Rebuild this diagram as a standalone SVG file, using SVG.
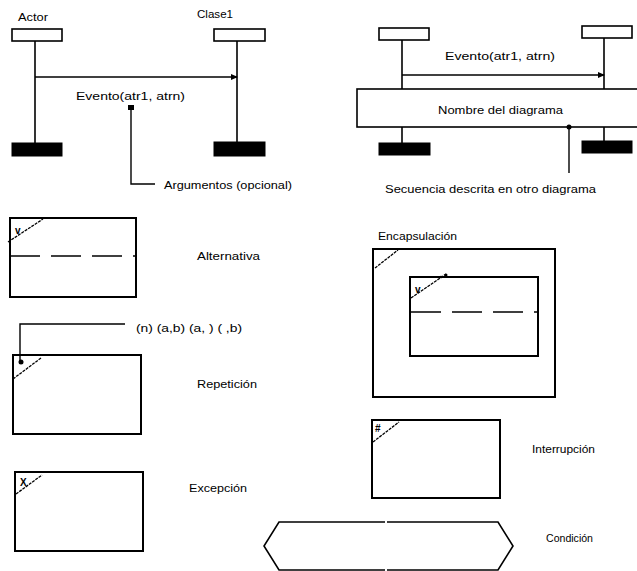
<svg xmlns="http://www.w3.org/2000/svg" width="637" height="571" viewBox="0 0 637 571">
<style>
  text { font-family: "Liberation Sans", Arial, sans-serif; font-size: 10px; fill: #000; }
  .small { font-size: 10px; font-weight: bold; }
  .box { fill: #fff; stroke: #000; stroke-width: 1.6; }
  .frame { fill: none; stroke: #000; stroke-width: 2; }
  .bar { fill: #000; stroke: #000; stroke-width: 1; }
  .life { stroke: #000; stroke-width: 1.6; fill: none; }
  .line { stroke: #000; stroke-width: 1.4; fill: none; }
  .diag { stroke: #000; stroke-width: 1.3; stroke-dasharray: 3 1; fill: none; }
  .dash { stroke: #000; stroke-width: 1.4; stroke-dasharray: 30 11; fill: none; }
</style>
<defs>
  <marker id="arrow" markerWidth="8" markerHeight="8" refX="6" refY="4" orient="auto" markerUnits="userSpaceOnUse">
    <path d="M0,1 L7,4 L0,7 Z" fill="#000"/>
  </marker>
</defs>
<rect width="637" height="571" fill="#fff"/>

<!-- Top-left sequence -->
<g id="actor">
  <text x="18" y="21" textLength="30" lengthAdjust="spacingAndGlyphs">Actor</text>
  <rect class="box" x="12" y="29" width="50" height="12"/>
  <line class="life" x1="35" y1="41" x2="35" y2="143"/>
  <rect class="bar" x="12" y="143" width="50" height="13"/>
</g>
<g id="clase1">
  <text x="197" y="18" textLength="36" lengthAdjust="spacingAndGlyphs">Clase1</text>
  <rect class="box" x="214" y="29" width="51" height="12"/>
  <line class="life" x1="237" y1="41" x2="237" y2="142"/>
  <rect class="bar" x="214" y="142" width="51" height="14"/>
</g>
<g id="label-evento1">
  <text x="76" y="100" textLength="109" lengthAdjust="spacingAndGlyphs">Evento(atr1, atrn)</text>
  <rect x="128" y="105" width="6" height="5" fill="#000"/>
</g>
<g id="label-argumentos">
  <text x="164" y="189" textLength="128" lengthAdjust="spacingAndGlyphs">Argumentos (opcional)</text>
</g>

<!-- Top-right sequence -->
<g id="objeto-a">
  <rect class="box" x="379" y="28" width="50" height="12"/>
  <line class="life" x1="402" y1="40" x2="402" y2="89"/>
  <line class="life" x1="402" y1="127" x2="402" y2="143"/>
  <rect class="bar" x="379" y="143" width="51" height="12"/>
</g>
<g id="objeto-b">
  <rect class="box" x="582" y="26" width="50" height="12"/>
  <line class="life" x1="604" y1="38" x2="604" y2="89"/>
  <line class="life" x1="604" y1="127" x2="604" y2="141"/>
  <rect class="bar" x="582" y="141" width="50" height="12"/>
</g>
<g id="label-evento2">
  <text x="445" y="60" textLength="110" lengthAdjust="spacingAndGlyphs">Evento(atr1, atrn)</text>
</g>
<g id="nombre-diagrama">
  <rect class="box" x="357" y="89" width="290" height="38"/>
  <text x="438" y="114" textLength="125" lengthAdjust="spacingAndGlyphs">Nombre del diagrama</text>
</g>
<g id="label-secuencia">
  <text x="385" y="193" textLength="211" lengthAdjust="spacingAndGlyphs">Secuencia descrita en otro diagrama</text>
</g>

<!-- Alternativa -->
<g id="alternativa">
  <rect class="frame" x="10" y="218" width="126" height="79"/>
  <line class="diag" x1="8" y1="242" x2="43" y2="219"/>
  <text class="small" x="15" y="234">v</text>
  <line class="dash" x1="10" y1="256" x2="136" y2="256"/>
  <text x="197" y="260" textLength="63" lengthAdjust="spacingAndGlyphs">Alternativa</text>
</g>

<!-- Repeticion -->
<g id="repeticion">
  <rect class="frame" x="13" y="355" width="128" height="79"/>
  <line class="diag" x1="13" y1="379" x2="41" y2="358"/>
  <circle cx="21" cy="362" r="2.5" fill="#000"/>
  <text x="136" y="332" textLength="106" lengthAdjust="spacingAndGlyphs">(n) (a,b) (a, ) ( ,b)</text>
  <text x="197" y="388" textLength="60" lengthAdjust="spacingAndGlyphs">Repetición</text>
</g>

<!-- Excepcion -->
<g id="excepcion">
  <rect class="frame" x="15" y="472" width="128" height="79"/>
  <line class="diag" x1="16" y1="494" x2="42" y2="475"/>
  <text class="small" x="20" y="486">X</text>
  <text x="189" y="492" textLength="58" lengthAdjust="spacingAndGlyphs">Excepción</text>
</g>

<!-- Encapsulacion -->
<g id="encapsulacion">
  <text x="378" y="240" textLength="79" lengthAdjust="spacingAndGlyphs">Encapsulación</text>
  <rect class="frame" x="373" y="249" width="182" height="148"/>
  <line class="diag" x1="375" y1="268" x2="398" y2="250"/>
  <rect class="frame" x="410" y="277" width="128" height="79"/>
  <line class="diag" x1="411" y1="298" x2="446" y2="274"/>
  <circle cx="441" cy="277" r="1.3" fill="#000"/>
  <circle cx="446" cy="275" r="1.5" fill="#000"/>
  <text class="small" x="415" y="293">v</text>
  <line class="dash" x1="411" y1="312" x2="538" y2="312" stroke-dasharray="29 11"/>
</g>

<!-- Interrupcion -->
<g id="interrupcion">
  <rect class="frame" x="372" y="420" width="128" height="78"/>
  <line class="diag" x1="373" y1="442" x2="399" y2="422"/>
  <text class="small" x="375" y="432">#</text>
  <text x="532" y="453" textLength="63" lengthAdjust="spacingAndGlyphs">Interrupción</text>
</g>

<!-- Condicion -->
<g id="condicion">
  <polyline class="life" points="385,522 279,522 264,546 279,570 385,570"/>
  <polyline class="life" points="387,522 498,522 513,546 498,570 387,570"/>
  <text x="546" y="542" textLength="47" lengthAdjust="spacingAndGlyphs">Condición</text>
</g>

<!-- Connectors -->
<g id="connectors">
  <line class="line" x1="35" y1="77" x2="237" y2="77" marker-end="url(#arrow)"/>
  <polyline class="line" points="131,110 131,184 155,184"/>
  <line class="line" x1="402" y1="75" x2="604" y2="75" marker-end="url(#arrow)"/>
  <circle cx="569" cy="127" r="2.5" fill="#000"/>
  <line class="line" x1="569" y1="127" x2="569" y2="173"/>
  <polyline class="line" points="125,324 20,324 20,362"/>
</g>
</svg>
